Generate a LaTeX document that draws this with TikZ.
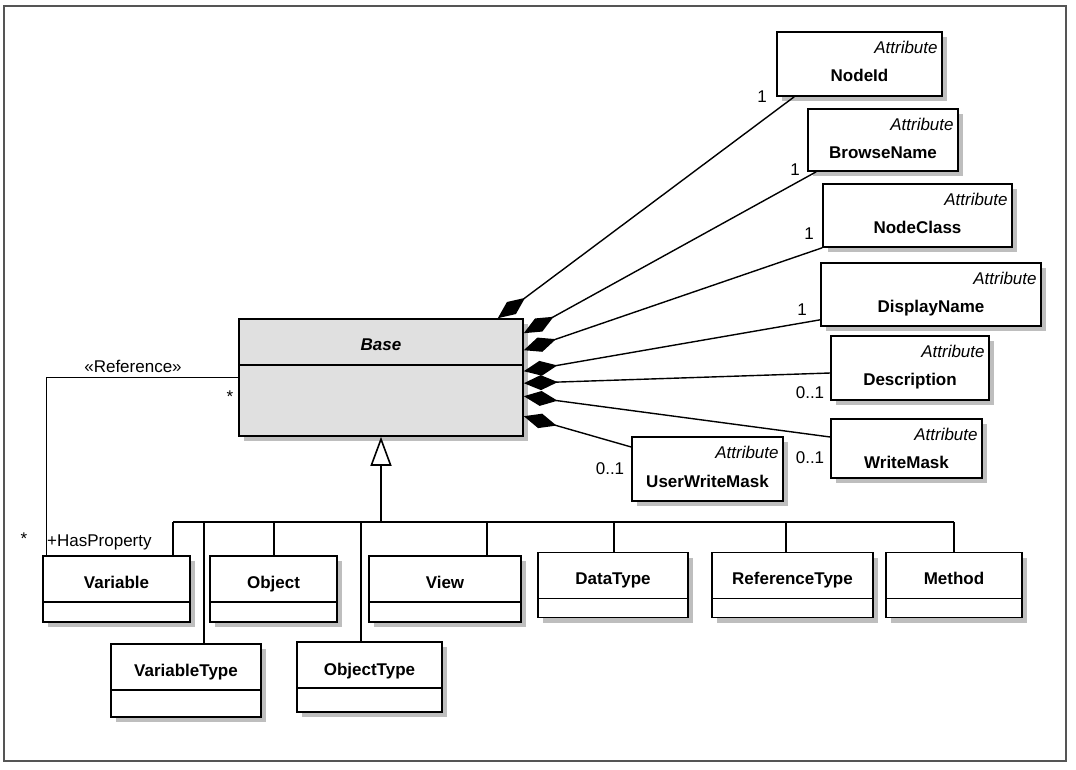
\documentclass[tikz,border=0pt]{standalone}
\usepackage{fontspec}
\setmainfont{Liberation Sans}
\usepackage{tikz}
\usetikzlibrary{arrows.meta,shadows}
\definecolor{basegray}{RGB}{224,224,224}
\definecolor{shadowgray}{RGB}{190,190,190}
\definecolor{framegray}{RGB}{85,85,85}
\tikzset{
  every node/.style={font=\fontsize{17}{20}\selectfont},
  box/.style={draw=black, line width=1.6pt, fill=white, inner ysep=0pt,
    drop shadow={shadow xshift=5pt, shadow yshift=-5pt, fill=shadowgray, opacity=1}},
  classbox/.style={box, font=\fontsize{17}{20}\selectfont\bfseries,
    text height=32pt, text depth=34pt,
    path picture={\draw[line width=1.5pt] ([yshift=-46pt]path picture bounding box.north west)
      -- ([yshift=-46pt]path picture bounding box.north east);}},
  attrbox/.style={box, font=\fontsize{17}{20}\selectfont\bfseries, text height=49pt,
    label={[anchor=north east, inner xsep=5pt, inner ysep=10pt,
      font=\fontsize{17}{20}\selectfont\itshape]north east:Attribute}},
  mult/.style={inner sep=1pt},
  line/.style={line width=1.4pt},
  comp/.style={line width=1.4pt, {Diamond[length=34pt, width=15pt]}-},
  inherit/.style={line width=2.4pt, -{Triangle[open, length=29pt, width=21pt, line width=1.6pt]}}
}

\begin{document}
\begin{tikzpicture}[x=1pt, y=-1pt]
  \useasboundingbox (0,0) rectangle (1076,769);
  \draw[framegray, line width=1.8pt] (4,6) rectangle (1066,761);

  % base class
  \node[classbox, fill=basegray, font=\fontsize{17}{20}\selectfont\bfseries\itshape,
    minimum width=284pt, text height=31pt, text depth=86pt] (base) at (381,377.5) {Base};

  % attributes
  \node[attrbox, minimum width=165pt, text depth=15pt] (nodeid) at (859.5,64) {NodeId};
  \node[attrbox, minimum width=150pt, text depth=13pt] (browsename) at (883,140) {BrowseName};
  \node[attrbox, minimum width=189pt, text depth=14pt] (nodeclass) at (917.5,215.5) {NodeClass};
  \node[attrbox, minimum width=220pt, text depth=14pt] (displayname) at (931,294.5) {DisplayName};
  \node[attrbox, minimum width=158pt, text depth=15pt] (description) at (910,368) {Description};
  \node[attrbox, minimum width=151pt, text depth=10pt] (writemask) at (906.5,448.5) {WriteMask};
  \node[attrbox, minimum width=151pt, text height=50pt, text depth=14pt] (userwritemask) at (707.5,469) {UserWriteMask};

  % node classes
  \node[classbox, minimum width=147pt] (variable) at (116.5,589) {Variable};
  \node[classbox, minimum width=127pt] (object) at (273.5,589) {Object};
  \node[classbox, minimum width=152pt] (view) at (445,589) {View};
  \node[classbox, minimum width=150pt, text depth=33pt] (datatype) at (613,585) {DataType};
  \node[classbox, minimum width=161pt, text depth=33pt] (referencetype) at (792.5,585) {ReferenceType};
  \node[classbox, minimum width=136pt, text depth=33pt] (method) at (954,585) {Method};
  \node[classbox, minimum width=150pt, text depth=41pt] (variabletype) at (186,680.5) {VariableType};
  \node[classbox, minimum width=145pt, text height=33pt, text depth=37pt] (objecttype) at (369.5,677) {ObjectType};

  % compositions
  \draw[comp] ([xshift=-26]base.north east) -- ([xshift=18]nodeid.south west);
  \draw[comp] ([yshift=-15]base.north east) -- ([xshift=9]browsename.south west);
  \draw[comp] ([yshift=-32]base.north east) -- (nodeclass.south west);
  \draw[comp] ([yshift=-53]base.north east) -- ([yshift=7]displayname.south west);
  \draw[comp] ([yshift=-65]base.north east) -- ([yshift=-5]description.west);
  \draw[comp] ([yshift=-78]base.north east) -- ([yshift=11.5]writemask.west);
  \draw[comp] ([yshift=-98]base.north east) -- ([yshift=22]userwritemask.west);
  \node[mult] (m1) at (762,97) {1};
  \node[mult] (m2) at (795,170) {1};
  \node[mult] (m3) at (809,233.5) {1};
  \node[mult] (m4) at (802,310) {1};
  \node[mult] (m5) at (810,393) {0..1};
  \node[mult] (m6) at (810,457.5) {0..1};
  \node[mult] (m7) at (610,469) {0..1};

  % generalization
  \coordinate (bus) at (381,522);
  \draw[inherit] (bus) -- (base.south);
  \draw[line width=1.8pt] ([xshift=56.5]variable.north |- bus) -- (method.north |- bus);
  \foreach \cls/\dx in {variable/56.5, object/0.5, view/42, datatype/1, referencetype/-6.5,
    method/0, variabletype/18, objecttype/-8.5}
    \draw[line] ([xshift=\dx]\cls.north) -- ([xshift=\dx]\cls.north |- bus);

  % reference
  \draw[line] (base.west) -| ([xshift=4]variable.north west);
  \node[mult] (reflabel) at (133,366.5) {«Reference»};
  \node[mult] (refbase) at (230,397) {*};
  \node[mult] (refvar) at (24,539) {*};
  \node[mult, anchor=base west] (hasprop) at (46,546) {+HasProperty};
\end{tikzpicture}
\end{document}
